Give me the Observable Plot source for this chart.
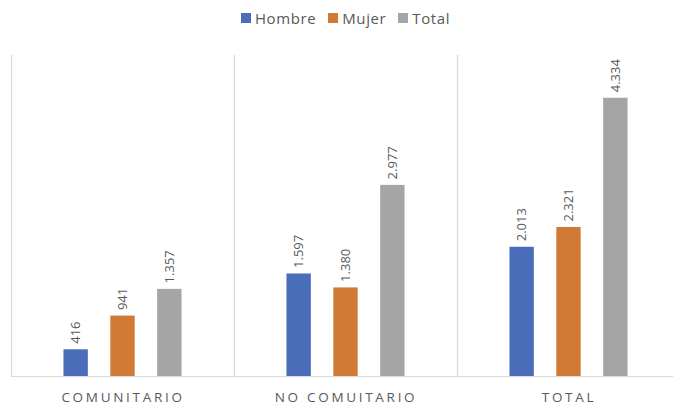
<!DOCTYPE html>
<html>
<head>
<meta charset="utf-8">
<script src="https://cdn.jsdelivr.net/npm/d3@7"></script>
<script src="https://cdn.jsdelivr.net/npm/@observablehq/plot@0.6"></script>
<style>
  body { margin: 0; background: #fff; font-family: "Open Sans", sans-serif; }
  #legend { height: 36px; display: flex; justify-content: center; align-items: center; gap: 12px; color: #595959; font-size: 15px; letter-spacing: 0.6px; padding-left: 18px; box-sizing: border-box; }
  #legend .item { display: flex; align-items: center; gap: 4px; }
  #legend .sw { width: 10px; height: 10px; display: inline-block; }
  .fxlab text { letter-spacing: 2.7px; }
</style>
</head>
<body>
<div id="legend"></div>
<div id="chart"></div>
<script>
const categories = ["COMUNITARIO", "NO COMUITARIO", "TOTAL"];
const series = ["Hombre", "Mujer", "Total"];
const hombre = [416, 1597, 2013];
const mujer = [941, 1380, 2321];
const total = [1357, 2977, 4334];
const colors = ["#4A6DBA", "#D17A36", "#A5A5A5"];

const seriesValues = [hombre, mujer, total];
const data = [];
categories.forEach((c, i) => {
  series.forEach((s, j) => data.push({category: c, series: s, value: seriesValues[j][i]}));
});

const fmt = d3.formatLocale({decimal: ",", thousands: ".", grouping: [3], currency: ["", ""]}).format(",");

const legend = document.getElementById("legend");
series.forEach((s, j) => {
  const it = document.createElement("span");
  it.className = "item";
  it.innerHTML = `<span class="sw" style="background:${colors[j]}"></span><span>${s}</span>`;
  legend.appendChild(it);
});

const chart = Plot.plot({
  width: 673,
  height: 371,
  marginTop: 19,
  marginBottom: 31,
  marginLeft: 10,
  marginRight: 0,
  style: {fontFamily: "Open Sans, sans-serif", color: "#595959"},
  fx: {domain: categories, range: [10, 681], padding: 0, label: null, axis: null},
  x: {domain: series, paddingInner: 0.48, paddingOuter: 1.12, axis: null, round: false},
  y: {domain: [0, 5000], axis: null},
  color: {domain: series, range: colors},
  marks: [
    Plot.frame({anchor: "left", stroke: "#D9D9D9", strokeWidth: 1.2}),
    Plot.barY(data, {fx: "category", x: "series", y: "value", fill: "series"}),
    Plot.ruleY([0], {stroke: "#D9D9D9", strokeWidth: 1.2}),
    Plot.text(data, {fx: "category", x: "series", y: "value", text: d => fmt(d.value), rotate: -90, textAnchor: "start", dy: -6, fontSize: 13, fill: "#595959"}),
    Plot.axisFx({anchor: "bottom", tickSize: 0, tickPadding: 16, fontSize: 13.5, label: null, className: "fxlab", fill: "#595959"})
  ]
});
document.getElementById("chart").appendChild(chart);
</script>
</body>
</html>
